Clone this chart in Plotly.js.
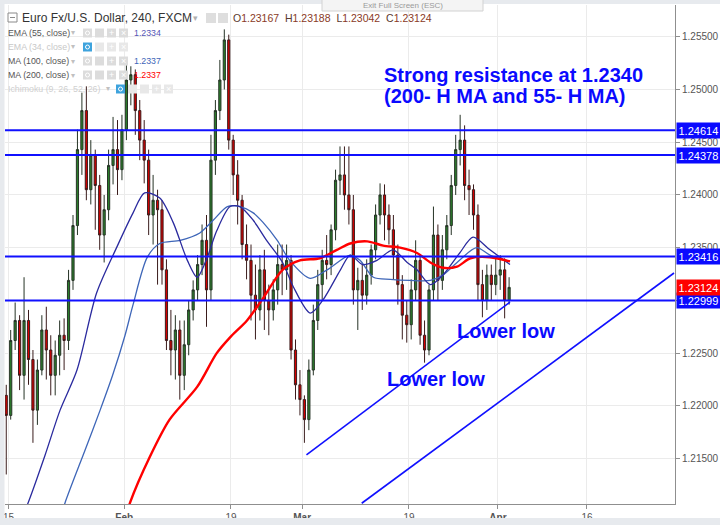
<!DOCTYPE html>
<html><head><meta charset="utf-8">
<script src="https://cdn.plot.ly/plotly-3.0.1.min.js"></script>
<style>html,body{margin:0;padding:0;background:#fff;}#chart{width:720px;height:525px;}</style>
</head><body><div id="chart"></div>
<script>
// ---- DATA (EUR/USD, half-day bars, x = trading days since Jan 15) ----
const firstBarDay = -0.25;
const barStepDays = 0.5;
const barOpen = [
1.2210,1.2191,1.2262,1.2281,1.2229,1.2281,1.2244,1.2196,1.2234,1.2272,
1.2253,1.2229,1.2248,1.2267,1.2262,1.2319,1.2371,1.2443,1.2480,1.2405,
1.2438,1.2409,1.2362,1.2386,1.2428,1.2443,1.2424,1.2462,1.2509,1.2514,
1.2480,1.2452,1.2433,1.2381,1.2395,1.2386,1.2329,1.2262,1.2253,1.2272,
1.2229,1.2258,1.2291,1.2310,1.2334,1.2357,1.2310,1.2433,1.2480,1.2509,
1.2547,1.2452,1.2419,1.2395,1.2353,1.2338,1.2305,1.2291,1.2329,1.2300,
1.2291,1.2310,1.2334,1.2329,1.2338,1.2253,1.2220,1.2206,1.2187,1.2234,
1.2281,1.2315,1.2338,1.2334,1.2367,1.2414,1.2419,1.2400,1.2386,1.2310,
1.2319,1.2305,1.2324,1.2348,1.2381,1.2400,1.2381,1.2367,1.2343,1.2315,
1.2286,1.2277,1.2310,1.2338,1.2267,1.2253,1.2310,1.2362,1.2319,1.2348,
1.2371,1.2409,1.2443,1.2452,1.2409,1.2405,1.2381,1.2315,1.2300,1.2324,
1.2315,1.2324,1.2329,1.2300];
const barHigh = [
1.2220,1.2272,1.2298,1.2286,1.2322,1.2291,1.2253,1.2244,1.2286,1.2294,
1.2267,1.2262,1.2281,1.2283,1.2329,1.2381,1.2462,1.2497,1.2503,1.2452,
1.2443,1.2419,1.2400,1.2443,1.2474,1.2471,1.2476,1.2523,1.2522,1.2519,
1.2490,1.2471,1.2443,1.2419,1.2405,1.2395,1.2339,1.2291,1.2286,1.2281,
1.2281,1.2300,1.2319,1.2343,1.2372,1.2381,1.2457,1.2490,1.2528,1.2557,
1.2552,1.2457,1.2433,1.2400,1.2372,1.2353,1.2334,1.2343,1.2348,1.2315,
1.2320,1.2353,1.2353,1.2353,1.2343,1.2263,1.2234,1.2210,1.2244,1.2296,
1.2329,1.2348,1.2362,1.2372,1.2424,1.2446,1.2446,1.2446,1.2400,1.2331,
1.2334,1.2339,1.2353,1.2391,1.2411,1.2410,1.2391,1.2381,1.2353,1.2324,
1.2300,1.2320,1.2357,1.2343,1.2281,1.2315,1.2389,1.2372,1.2362,1.2381,
1.2419,1.2457,1.2476,1.2466,1.2424,1.2410,1.2391,1.2329,1.2334,1.2334,
1.2340,1.2343,1.2340,1.2322];
const barLow = [
1.2135,1.2187,1.2253,1.2215,1.2206,1.2220,1.2165,1.2182,1.2229,1.2225,
1.2210,1.2210,1.2229,1.2234,1.2253,1.2310,1.2362,1.2419,1.2395,1.2391,
1.2367,1.2348,1.2336,1.2376,1.2410,1.2400,1.2414,1.2452,1.2485,1.2457,
1.2433,1.2411,1.2362,1.2353,1.2315,1.2315,1.2253,1.2229,1.2225,1.2206,
1.2215,1.2248,1.2281,1.2300,1.2324,1.2275,1.2300,1.2419,1.2471,1.2500,
1.2443,1.2400,1.2372,1.2339,1.2320,1.2281,1.2263,1.2281,1.2272,1.2267,
1.2281,1.2296,1.2305,1.2310,1.2244,1.2206,1.2191,1.2165,1.2177,1.2229,
1.2272,1.2300,1.2320,1.2324,1.2357,1.2400,1.2386,1.2372,1.2296,1.2272,
1.2291,1.2296,1.2315,1.2339,1.2372,1.2357,1.2353,1.2320,1.2296,1.2263,
1.2260,1.2263,1.2300,1.2258,1.2241,1.2248,1.2300,1.2300,1.2310,1.2339,
1.2362,1.2400,1.2428,1.2395,1.2381,1.2367,1.2300,1.2284,1.2291,1.2300,
1.2305,1.2310,1.2283,1.2296];
const barClose = [
1.2191,1.2262,1.2281,1.2229,1.2281,1.2244,1.2196,1.2234,1.2272,1.2253,
1.2229,1.2248,1.2267,1.2262,1.2319,1.2371,1.2443,1.2480,1.2405,1.2438,
1.2409,1.2362,1.2386,1.2428,1.2443,1.2424,1.2462,1.2509,1.2514,1.2480,
1.2452,1.2433,1.2381,1.2395,1.2386,1.2329,1.2262,1.2253,1.2272,1.2229,
1.2258,1.2291,1.2310,1.2334,1.2357,1.2310,1.2433,1.2480,1.2509,1.2547,
1.2452,1.2419,1.2395,1.2353,1.2338,1.2305,1.2291,1.2329,1.2300,1.2291,
1.2310,1.2334,1.2329,1.2338,1.2253,1.2220,1.2206,1.2187,1.2234,1.2281,
1.2315,1.2338,1.2334,1.2367,1.2414,1.2419,1.2400,1.2386,1.2310,1.2319,
1.2305,1.2324,1.2348,1.2381,1.2400,1.2381,1.2367,1.2343,1.2315,1.2286,
1.2277,1.2310,1.2338,1.2267,1.2253,1.2310,1.2362,1.2319,1.2348,1.2371,
1.2409,1.2443,1.2452,1.2409,1.2405,1.2381,1.2315,1.2300,1.2324,1.2315,
1.2324,1.2329,1.2300,1.23124];

const ema55Day = [1.0,2.2,4.1,5.8,7.7,9.9,12.2,14.0,15.3,17.0,18.5,20.1,21.2,22.3,23.4,24.9,26.0,27.5,29.0,30.8,32.0,33.9,35.3,37.3,38.4,39.8,41.4,43.2,44.8,45.9,47.4,48.8,50.7,52.2,54.1,56.35];
const ema55Val = [1.2085,1.2108,1.2153,1.2196,1.2234,1.2307,1.2351,1.2383,1.2402,1.2397,1.2374,1.2338,1.2322,1.2340,1.2366,1.2389,1.2389,1.2376,1.2357,1.2336,1.2313,1.2288,1.2300,1.2329,1.2343,1.2334,1.2338,1.2348,1.2336,1.2329,1.2315,1.2324,1.2345,1.2360,1.2348,1.2334];
const ma100Day = [5.8,6.35,8.6,10.3,11.7,13.1,14.0,15.6,17.0,19.3,21.5,23.0,24.6,26.0,27.5,28.6,30.2,31.6,33.9,35.8,38.4,39.5,41.0,42.9,45.1,47.4,48.8,50.4,52.6,54.1,56.35];
const ma100Val = [1.2092,1.2108,1.2158,1.2196,1.2229,1.2267,1.2296,1.2341,1.2354,1.2357,1.2364,1.2376,1.2389,1.2389,1.2383,1.2374,1.2357,1.2338,1.2321,1.2329,1.2343,1.2338,1.2322,1.2320,1.2319,1.2319,1.2324,1.2336,1.2350,1.2343,1.2337];
const ma200Day = [13.1,13.65,15.9,18.1,21.2,23.4,24.9,26.8,28.6,30.8,32.75,35.0,36.9,38.4,40.3,42.1,44.0,45.9,47.4,48.8,50.4,51.9,54.1,56.35];
const ma200Val = [1.2092,1.2108,1.2152,1.2187,1.2218,1.2250,1.2265,1.2281,1.2302,1.2329,1.2338,1.2340,1.2348,1.2354,1.2356,1.2352,1.2350,1.2345,1.2336,1.2331,1.2332,1.2340,1.2341,1.2337];

const levelValues = [1.24614, 1.24378, 1.23416, 1.22999];
const lastClose = 1.23124;
const trend1Day = [33.48, 56.35];
const trend1Val = [1.21535, 1.22985];
const trend2Day = [39.69, 74.78];
const trend2Val = [1.21077, 1.23260];

const tickDays = [0, 13, 25, 33, 45, 55, 65];
const tickLabels = ['15', '<b>Feb</b>', '19', '<b>Mar</b>', '19', '<b>Apr</b>', '16'];
const priceTicks = [1.215, 1.220, 1.225, 1.230, 1.235, 1.240, 1.245, 1.250, 1.255];
const priceTickLabels = ['1.21500', '1.22000', '1.22500', '', '1.23500', '1.24000', '1.24500', '1.25000', '1.25500'];

const legendNames = ['EMA (55, close)', 'EMA (34, close)', 'MA (100, close)', 'MA (200, close)', 'Ichimoku (9, 26, 52, 26)'];
const legendValues = ['1.2334', '', '1.2337', '1.2337', ''];
const ohlcLabels = ['O', 'H', 'L', 'C'];
const ohlcValues = ['1.23167', '1.23188', '1.23042', '1.23124'];

// ---- LAYOUT HELPERS ----
const FONT = 'Liberation Sans, Arial, sans-serif';
const P = px => (px - 5) / 670;
const Q = py => (504 - py) / 499;
const barDay = barClose.map((_, i) => firstBarDay + i * barStepDays);

const traces = [
  {type:'candlestick', x:barDay, open:barOpen, high:barHigh, low:barLow, close:barClose,
   increasing:{line:{color:'#263326', width:1}, fillcolor:'#2b7d2b'},
   decreasing:{line:{color:'#3a1c1c', width:1}, fillcolor:'#d40000'},
   hoverinfo:'skip', showlegend:false},
  {type:'scatter', mode:'lines', x:ma100Day, y:ma100Val, line:{color:'#3e66b8', width:1.3, shape:'spline', smoothing:0.8}, hoverinfo:'skip', showlegend:false},
  {type:'scatter', mode:'lines', x:ema55Day, y:ema55Val, line:{color:'#2a2a9e', width:1.3, shape:'spline', smoothing:0.8}, hoverinfo:'skip', showlegend:false},
  {type:'scatter', mode:'lines', x:ma200Day, y:ma200Val, line:{color:'#ff0000', width:2.4, shape:'spline', smoothing:0.8}, hoverinfo:'skip', showlegend:false}
];

const shapes = [];
const annotations = [];

levelValues.forEach(v => shapes.push({type:'line', xref:'paper', x0:0, x1:1, yref:'y', y0:v, y1:v, line:{color:'#1010ff', width:2}, layer:'above'}));
shapes.push({type:'line', xref:'x', yref:'y', x0:trend1Day[0], x1:trend1Day[1], y0:trend1Val[0], y1:trend1Val[1], line:{color:'#1010ff', width:1.6}, layer:'above'});
shapes.push({type:'line', xref:'x', yref:'y', x0:trend2Day[0], x1:trend2Day[1], y0:trend2Val[0], y1:trend2Val[1], line:{color:'#1010ff', width:1.6}, layer:'above'});

function rectPx(x0, y0, x1, y1, fill, line) {
  return {type:'rect', xref:'paper', yref:'paper', x0:P(x0), x1:P(x1), y0:Q(y1), y1:Q(y0),
          fillcolor:fill, line:{color:line || fill, width: line ? 1 : 0}, layer:'above'};
}
function txt(px, py, text, size, color, extra) {
  return Object.assign({xref:'paper', yref:'paper', x:P(px), y:Q(py), xanchor:'left', yanchor:'middle',
          text:text, showarrow:false, font:{size:size, color:color, family:FONT}}, extra || {});
}

// frame
shapes.push(rectPx(0, 0, 720, 4, '#e7eaee'));
shapes.push(rectPx(0, 0, 4.5, 525, '#e7eaee'));
shapes.push(rectPx(0, 518, 720, 525, '#e7eaee'));
// exit full screen tab
shapes.push(rectPx(322, -1, 483, 11, '#f4f4f4', '#d2d2d2'));
annotations.push(txt(402.5, 5, 'Exit Full Screen (ESC)', 8, '#9a9a9a', {xanchor:'center'}));

// header
shapes.push(rectPx(8, 13, 17, 22, '#ffffff', '#8a8a8a'));
shapes.push({type:'line', xref:'paper', yref:'paper', x0:P(10), x1:P(15), y0:Q(17.5), y1:Q(17.5), line:{color:'#8a8a8a', width:1}, layer:'above'});
annotations.push(txt(20, 18, 'Euro Fx/U.S. Dollar, 240, FXCM', 12, '#333333'));
annotations.push(txt(191, 18, '▾', 9, '#b0b0b0'));
shapes.push(rectPx(206, 13, 216, 23, '#dedede'));
shapes.push(rectPx(218, 13, 228, 23, '#dedede'));
annotations.push(txt(231, 18, ohlcLabels.map((l, i) => '<span style="color:#5a3a30">' + l + '</span><span style="color:#8a3a26">' + ohlcValues[i] + '</span>').join('  '), 10.5, '#8a3a26'));

// indicator legend rows
const rowY = [33, 47, 61, 75, 89];
const rowColors = ['#555555', '#c8c8c8', '#555555', '#555555', '#d0d0d0'];
const valueColors = ['#5555b5', '#555', '#3e66b8', '#ff0000', '#555'];
legendNames.forEach((name, i) => {
  annotations.push(txt(6, rowY[i], name, 8.8, rowColors[i]));
  const arrowX = i === 4 ? 104 : 69;
  annotations.push(txt(arrowX, rowY[i], '▾', 8, '#c0c0c0'));
  if (legendValues[i]) annotations.push(txt(132, rowY[i], legendValues[i], 8.8, valueColors[i]));
  const hidden = (i === 1 || i === 4);
  const startX = i === 4 ? 116 : 83;
  const n = i === 4 ? 5 : 4;
  for (let j = 0; j < n; j++) {
    const x0 = startX + j * 12;
    const fill = (hidden && j === 0) ? '#3ea3dd' : (hidden ? '#e8e8e8' : '#dcdcdc');
    shapes.push(rectPx(x0, rowY[i] - 4.5, x0 + 9, rowY[i] + 4.5, fill));
    if (j === 0) shapes.push({type:'circle', xref:'paper', yref:'paper', x0:P(x0 + 2.5), x1:P(x0 + 6.5), y0:Q(rowY[i] + 2), y1:Q(rowY[i] - 2), line:{color:'#ffffff', width:1}, layer:'above'});
    if (j === n - 2) annotations.push(txt(x0 + 4.5, rowY[i], '+', 9, '#ffffff', {xanchor:'center'}));
    if (j === n - 1) annotations.push(txt(x0 + 4.5, rowY[i], '×', 9, '#ffffff', {xanchor:'center'}));
  }
});

// commentary
annotations.push(txt(382, 75, '<b>Strong resistance at 1.2340</b>', 20, '#0a0aff'));
annotations.push(txt(382, 96, '<b>(200- H MA and 55- H MA)</b>', 20, '#0a0aff'));
annotations.push(txt(455, 331, '<b>Lower low</b>', 20, '#0a0aff'));
annotations.push(txt(385, 379, '<b>Lower low</b>', 20, '#0a0aff'));

// price labels on axis
levelValues.forEach(v => annotations.push({xref:'paper', yref:'y', x:1, y:v, xanchor:'left', yanchor:'middle', xshift:1,
  text:v.toFixed(5), showarrow:false, bgcolor:'#0a0aff', borderpad:1.5, font:{size:11, color:'#ffffff', family:FONT}}));
annotations.push({xref:'paper', yref:'y', x:1, y:lastClose, xanchor:'left', yanchor:'middle', xshift:1,
  text:lastClose.toFixed(5), showarrow:false, bgcolor:'#ff0000', borderpad:1.5, font:{size:11, color:'#ffffff', family:FONT}});

const layout = {
  width:720, height:525, autosize:false,
  margin:{l:5, r:45, t:5, b:21, pad:0},
  paper_bgcolor:'#ffffff', plot_bgcolor:'#ffffff',
  font:{family:FONT, size:10, color:'#555555'},
  showlegend:false,
  xaxis:{type:'linear', range:[-0.39, 74.89], tickmode:'array', tickvals:tickDays, ticktext:tickLabels,
         showgrid:true, gridcolor:'#ebebeb', gridwidth:1, zeroline:false,
         showline:true, linecolor:'#8f8f8f', linewidth:1, ticks:'outside', ticklen:4, tickcolor:'#8f8f8f',
         tickfont:{size:10, color:'#555555', family:FONT}, rangeslider:{visible:false}, fixedrange:true},
  yaxis:{side:'right', range:[1.21070, 1.25801], tickmode:'array', tickvals:priceTicks,
         ticktext:priceTickLabels,
         showgrid:true, gridcolor:'#ebebeb', gridwidth:1, zeroline:false,
         showline:true, linecolor:'#8f8f8f', linewidth:1, ticks:'outside', ticklen:4, tickcolor:'#8f8f8f',
         tickfont:{size:10, color:'#555555', family:FONT}, fixedrange:true},
  shapes:shapes,
  annotations:annotations
};

Plotly.newPlot('chart', traces, layout, {displayModeBar:false, staticPlot:true});
</script>
</body></html>
